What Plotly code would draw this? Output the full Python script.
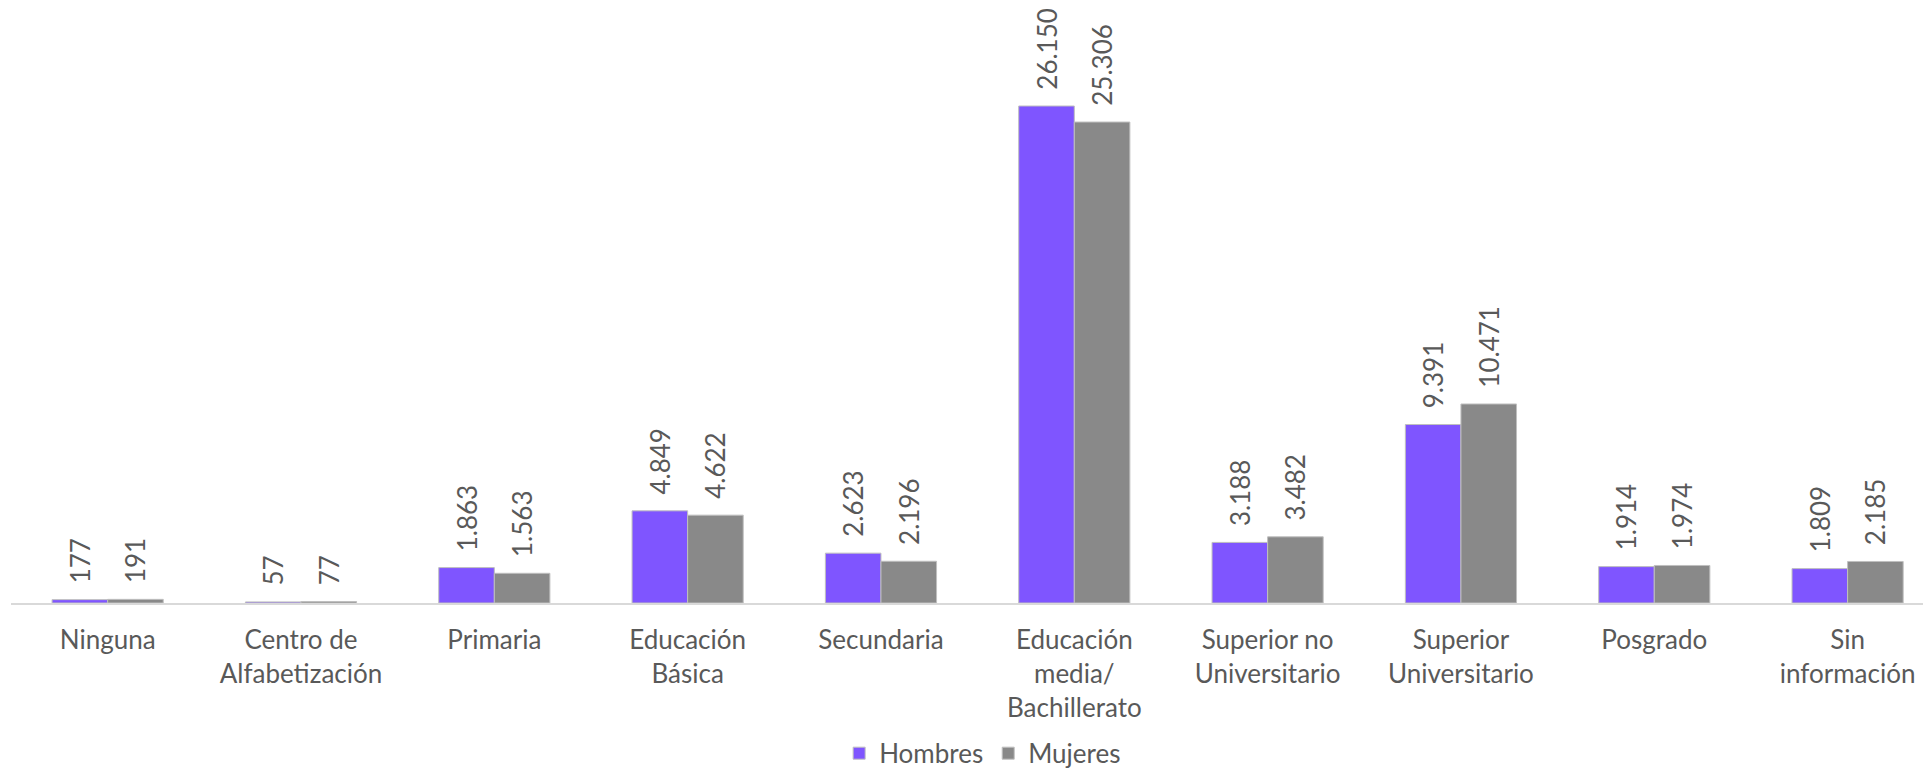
import plotly.graph_objects as go

categories = ["Ninguna", "Centro de<br>Alfabetización", "Primaria", "Educación<br>Básica",
              "Secundaria", "Educación<br>media/<br>Bachillerato", "Superior no<br>Universitario",
              "Superior<br>Universitario", "Posgrado", "Sin<br>información"]
hombres = [177, 57, 1863, 4849, 2623, 26150, 3188, 9391, 1914, 1809]
mujeres = [191, 77, 1563, 4622, 2196, 25306, 3482, 10471, 1974, 2185]

FONT = "Lato"
TXT = "#595959"

fig = go.Figure()
for name, vals, col in [("Hombres", hombres, "#7F55FF"), ("Mujeres", mujeres, "#898989")]:
    fig.add_trace(go.Bar(
        x=categories, y=vals, name=name,
        marker=dict(color=col, line=dict(color="#BFBFBF", width=1)),
        texttemplate="\u00a0\u00a0%{y:,}", textposition="outside", textangle=-90,
        constraintext="none", cliponaxis=False,
        textfont=dict(family=FONT, size=26, color=TXT),
    ))

fig.update_layout(
    width=1923, height=771,
    margin=dict(l=11, r=0, t=0, b=168, autoexpand=False),
    paper_bgcolor="white", plot_bgcolor="white",
    barmode="group", bargap=0.425, bargroupgap=0,
    separators=",.",
    font=dict(family=FONT, size=26, color=TXT),
    showlegend=True,
    legend=dict(orientation="h", xref="container", x=0.511, xanchor="center",
                yref="container", y=0.023, yanchor="middle",
                font=dict(family=FONT, size=26, color=TXT), itemwidth=30, traceorder="normal"),
    xaxis=dict(range=[-0.5, 9.39], showline=True, linecolor="#D9D9D9", linewidth=2,
               automargin=False, ticklabelstandoff=13,
               ticks="", tickfont=dict(family=FONT, size=26, color=TXT), fixedrange=True),
    yaxis=dict(range=[0, 31727], visible=False, showgrid=False, zeroline=False, automargin=False,
               fixedrange=True),
)

fig.write_html("out.html", config={"displayModeBar": False},
               post_script="document.body.style.margin='0';document.body.style.overflow='hidden';")
